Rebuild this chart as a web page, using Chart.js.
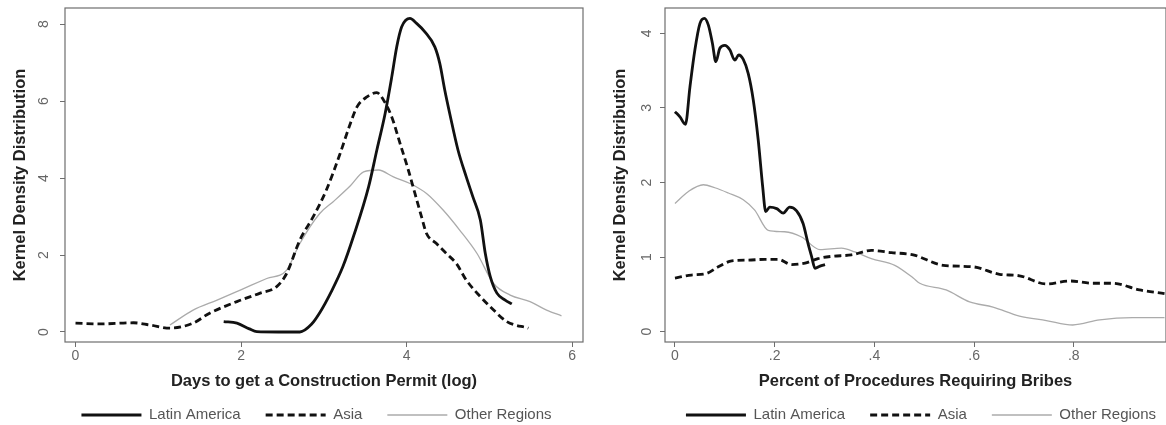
<!DOCTYPE html>
<html>
<head>
<meta charset="utf-8">
<script src="https://cdn.jsdelivr.net/npm/chart.js@4"></script>
<style>
  html, body { margin: 0; padding: 0; background: #fff; }
  body { width: 1166px; height: 425px; position: relative; overflow: hidden; }
  canvas { position: absolute; top: 0; }
  #permitChart { left: 0; }
  #bribeChart { left: 600px; }
</style>
</head>
<body>
<canvas id="permitChart" width="590" height="425"></canvas>
<canvas id="bribeChart" width="566" height="425"></canvas>
<script>
// left panel: days to get a construction permit (log)
const permitLatinX = [1.79, 1.95, 2.1, 2.19, 2.45, 2.71, 2.85, 2.95, 3.09, 3.23, 3.36, 3.54, 3.64, 3.74, 3.82, 3.88, 3.94, 4.04, 4.12, 4.22, 4.34, 4.40, 4.46, 4.52, 4.62, 4.72, 4.80, 4.89, 4.95, 5.01, 5.09, 5.19, 5.27];
const permitLatinY = [0.27, 0.23, 0.08, 0.01, 0, 0, 0.2, 0.5, 1.05, 1.7, 2.5, 3.77, 4.73, 5.68, 6.63, 7.41, 7.93, 8.15, 8.02, 7.80, 7.41, 6.98, 6.29, 5.68, 4.73, 4.03, 3.51, 2.91, 2.04, 1.44, 1.01, 0.83, 0.73];
const permitAsiaX = [0, 0.3, 0.7, 0.9, 1.14, 1.42, 1.62, 1.95, 2.23, 2.43, 2.55, 2.71, 2.87, 3.03, 3.19, 3.32, 3.40, 3.52, 3.64, 3.72, 3.82, 3.92, 4.02, 4.10, 4.18, 4.24, 4.36, 4.48, 4.60, 4.72, 4.89, 5.05, 5.21, 5.47];
const permitAsiaY = [0.23, 0.21, 0.24, 0.18, 0.10, 0.23, 0.49, 0.79, 1.01, 1.18, 1.52, 2.39, 2.99, 3.69, 4.6, 5.42, 5.85, 6.11, 6.22, 6.03, 5.59, 4.90, 4.21, 3.60, 2.99, 2.56, 2.30, 2.04, 1.78, 1.35, 0.92, 0.57, 0.27, 0.10];
const permitOtherX = [1.14, 1.42, 1.71, 1.99, 2.31, 2.55, 2.71, 2.95, 3.12, 3.32, 3.48, 3.66, 3.84, 4.04, 4.24, 4.44, 4.64, 4.85, 5.05, 5.25, 5.49, 5.69, 5.87];
const permitOtherY = [0.18, 0.57, 0.83, 1.09, 1.39, 1.61, 2.30, 3.08, 3.4, 3.8, 4.16, 4.21, 4.03, 3.86, 3.60, 3.17, 2.65, 2.04, 1.26, 0.96, 0.79, 0.57, 0.42];
const permitXTicks = [0, 2, 4, 6];
const permitXLabels = ["0", "2", "4", "6"];
const permitYTicks = [0, 2, 4, 6, 8];

// right panel: percent of procedures requiring bribes
const bribeLatinX = [0, 0.010, 0.021, 0.030, 0.040, 0.050, 0.059, 0.067, 0.075, 0.082, 0.090, 0.100, 0.110, 0.120, 0.128, 0.137, 0.147, 0.157, 0.167, 0.176, 0.182, 0.190, 0.204, 0.217, 0.230, 0.244, 0.257, 0.267, 0.274, 0.281, 0.291, 0.301];
const bribeLatinY = [2.95, 2.88, 2.78, 3.28, 3.78, 4.13, 4.20, 4.11, 3.87, 3.62, 3.80, 3.84, 3.78, 3.64, 3.71, 3.65, 3.46, 3.11, 2.57, 1.94, 1.61, 1.67, 1.65, 1.59, 1.67, 1.62, 1.45, 1.18, 1.01, 0.85, 0.88, 0.90];
const bribeAsiaX = [0, 0.033, 0.063, 0.087, 0.114, 0.147, 0.180, 0.207, 0.234, 0.261, 0.287, 0.314, 0.354, 0.394, 0.434, 0.478, 0.538, 0.598, 0.651, 0.691, 0.745, 0.792, 0.838, 0.878, 0.932, 0.982];
const bribeAsiaY = [0.72, 0.76, 0.78, 0.87, 0.95, 0.96, 0.97, 0.97, 0.90, 0.92, 0.98, 1.01, 1.03, 1.09, 1.06, 1.03, 0.89, 0.87, 0.77, 0.75, 0.64, 0.68, 0.65, 0.65, 0.56, 0.51];
const bribeOtherX = [0, 0.027, 0.057, 0.080, 0.107, 0.137, 0.160, 0.187, 0.220, 0.254, 0.291, 0.334, 0.361, 0.394, 0.441, 0.478, 0.491, 0.544, 0.591, 0.638, 0.691, 0.745, 0.798, 0.852, 0.918, 0.982];
const bribeOtherY = [1.72, 1.88, 1.97, 1.93, 1.86, 1.77, 1.63, 1.36, 1.34, 1.27, 1.10, 1.12, 1.07, 0.98, 0.89, 0.72, 0.65, 0.56, 0.40, 0.33, 0.21, 0.15, 0.09, 0.16, 0.19, 0.19];
const bribeXTicks = [0, 0.2, 0.4, 0.6, 0.8];
const bribeXLabels = ["0", ".2", ".4", ".6", ".8"];
const bribeYTicks = [0, 1, 2, 3, 4];

const seriesNames = ["Latin America", "Asia", "Other Regions"];
const yTitle = "Kernel Density Distribution";

const FONT = "'Liberation Sans', Arial, sans-serif";

function points(xs, ys) {
    return xs.map((x, i) => ({ x: x, y: ys[i] }));
}

// box around the plot region, like the Stata plotregion
const framePlugin = {
    id: "frame",
    afterDatasetsDraw(chart) {
        const a = chart.chartArea;
        const ctx = chart.ctx;
        ctx.save();
        ctx.strokeStyle = "#6e6e6e";
        ctx.lineWidth = 1.2;
        ctx.strokeRect(a.left, a.top, a.right - a.left, a.bottom - a.top);
        ctx.restore();
    }
};

// move the legend a bit after layout
const nudgePlugin = {
    id: "nudge",
    afterLayout(chart, args, opts) {
        const lg = chart.legend;
        lg.left += opts.dx;
        lg.right += opts.dx;
        lg.top += opts.dy;
    }
};

// legend items with the dataset's own line style
function legendLabels(chart) {
    const items = Chart.defaults.plugins.legend.labels.generateLabels(chart);
    return items.map((item, i) => {
        const ds = chart.data.datasets[i];
        item.lineDash = ds.borderDash || [];
        item.lineWidth = ds.borderWidth;
        item.strokeStyle = ds.borderColor;
        item.fillStyle = ds.borderColor;
        return item;
    });
}

function makeChart(id, cfg) {
    const datasets = [
        {
            label: seriesNames[0],
            data: points(cfg.latinX, cfg.latinY),
            borderColor: "#111",
            borderWidth: 2.8,
            pointStyle: "line"
        },
        {
            label: seriesNames[1],
            data: points(cfg.asiaX, cfg.asiaY),
            borderColor: "#111",
            borderWidth: 2.8,
            borderDash: [7, 4],
            pointStyle: "line"
        },
        {
            label: seriesNames[2],
            data: points(cfg.otherX, cfg.otherY),
            borderColor: "#ababab",
            borderWidth: 1.3,
            pointStyle: "line"
        }
    ];

    return new Chart(document.getElementById(id), {
        type: "line",
        data: { datasets: datasets },
        plugins: [framePlugin, nudgePlugin],
        options: {
            responsive: false,
            animation: false,
            events: [],
            layout: { padding: { top: 8, right: cfg.padRight, left: 0, bottom: 0 } },
            elements: {
                point: { radius: 0 },
                line: { cubicInterpolationMode: "monotone", fill: false }
            },
            scales: {
                x: {
                    type: "linear",
                    min: cfg.xMin,
                    max: cfg.xMax,
                    afterBuildTicks: s => { s.ticks = cfg.xTicks.map(v => ({ value: v })); },
                    afterFit: s => {
                        s.height = 51;
                        s.paddingLeft = 0;
                        s.paddingRight = 0;
                    },
                    grid: { drawOnChartArea: false, drawTicks: true, tickLength: 5, color: "#6e6e6e" },
                    border: { display: false },
                    ticks: {
                        padding: 1,
                        color: "#666",
                        font: { family: FONT, size: 14 },
                        maxRotation: 0,
                        callback: (v, i) => cfg.xLabels[i]
                    },
                    title: {
                        display: true,
                        text: cfg.xTitle,
                        color: "#222",
                        font: { family: FONT, size: 16.5, weight: "bold" },
                        padding: { top: 0, bottom: 2 }
                    }
                },
                y: {
                    type: "linear",
                    min: cfg.yMin,
                    max: cfg.yMax,
                    afterBuildTicks: s => { s.ticks = cfg.yTicks.map(v => ({ value: v })); },
                    afterFit: s => {
                        s.width = 65;
                        s.paddingTop = 0;
                        s.paddingBottom = 0;
                    },
                    grid: { drawOnChartArea: false, drawTicks: true, tickLength: 5, color: "#6e6e6e" },
                    border: { display: false },
                    ticks: {
                        padding: cfg.yPad,
                        color: "#666",
                        crossAlign: "center",
                        minRotation: 90,
                        maxRotation: 90,
                        font: { family: FONT, size: 14 },
                        callback: v => String(v)
                    },
                    title: {
                        display: true,
                        text: yTitle,
                        color: "#222",
                        font: { family: FONT, size: 16.5, weight: "bold" },
                        padding: { top: cfg.yTitlePad, bottom: 0 }
                    }
                }
            },
            plugins: {
                tooltip: { enabled: false },
                nudge: { dx: cfg.legendDx, dy: -10.5 },
                legend: {
                    display: true,
                    position: "bottom",
                    maxHeight: 32,
                    labels: {
                        usePointStyle: true,
                        pointStyleWidth: 60,
                        padding: 25,
                        color: "#555",
                        font: { family: FONT, size: 15 },
                        generateLabels: legendLabels
                    }
                }
            }
        }
    });
}

makeChart("permitChart", {
    latinX: permitLatinX, latinY: permitLatinY,
    asiaX: permitAsiaX, asiaY: permitAsiaY,
    otherX: permitOtherX, otherY: permitOtherY,
    xTicks: permitXTicks, xLabels: permitXLabels, yTicks: permitYTicks,
    xMin: -0.127, xMax: 6.13, yMin: -0.26, yMax: 8.42,
    xTitle: "Days to get a Construction Permit (log)",
    padRight: 7, yPad: 12, yTitlePad: 11, legendDx: 25
});

makeChart("bribeChart", {
    latinX: bribeLatinX, latinY: bribeLatinY,
    asiaX: bribeAsiaX, asiaY: bribeAsiaY,
    otherX: bribeOtherX, otherY: bribeOtherY,
    xTicks: bribeXTicks, xLabels: bribeXLabels, yTicks: bribeYTicks,
    xMin: -0.02, xMax: 0.985, yMin: -0.138, yMax: 4.34,
    xTitle: "Percent of Procedures Requiring Bribes",
    padRight: 0, yPad: 9, yTitlePad: 11, legendDx: 38
});
</script>
</body>
</html>
